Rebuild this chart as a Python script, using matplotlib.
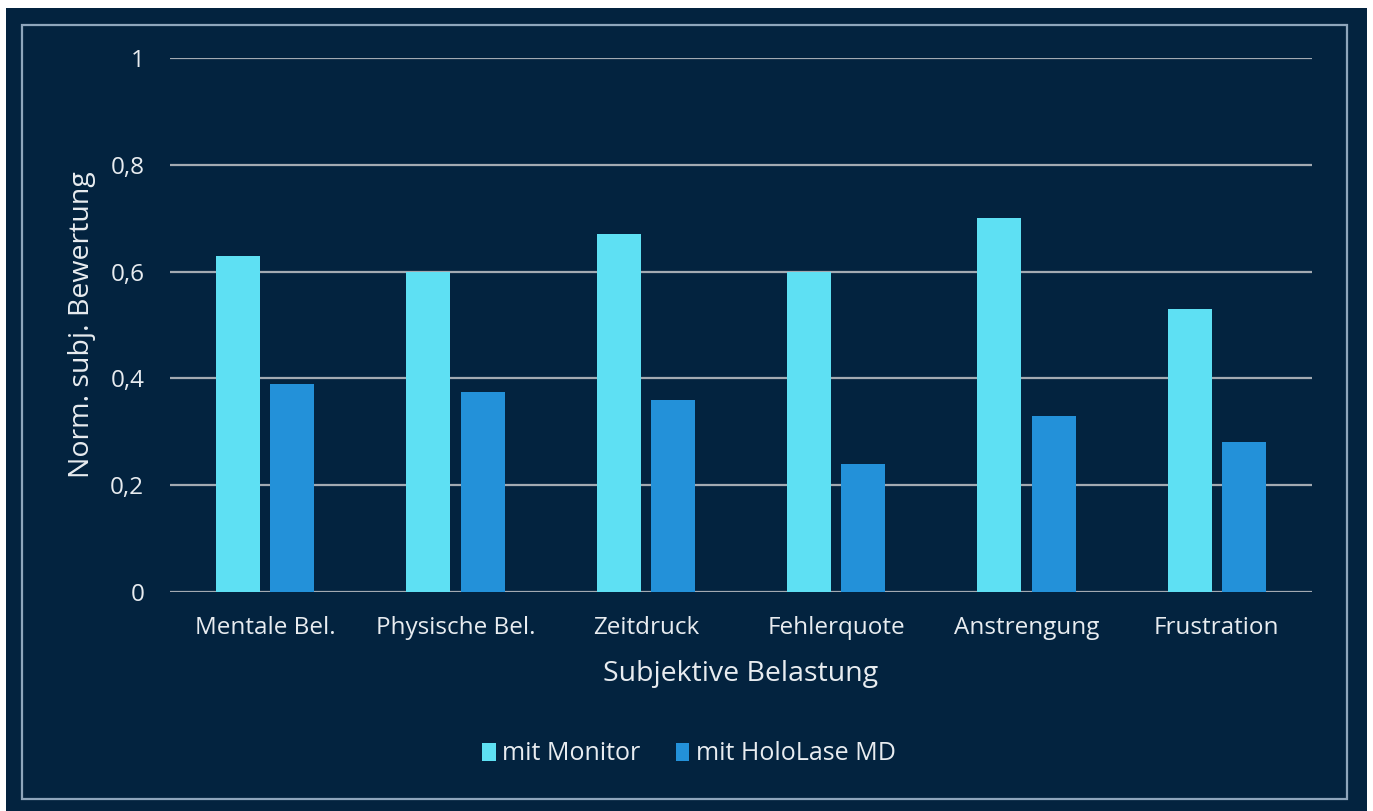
import matplotlib
matplotlib.use("Agg")
import matplotlib.pyplot as plt
from matplotlib.patches import Rectangle
import numpy as np

categories = ["Mentale Bel.", "Physische Bel.", "Zeitdruck", "Fehlerquote", "Anstrengung", "Frustration"]
monitor = [0.63, 0.60, 0.67, 0.60, 0.70, 0.53]
hololase = [0.39, 0.375, 0.36, 0.24, 0.33, 0.28]
series_names = ["mit Monitor", "mit HoloLase MD"]
y_ticks = [0, 0.2, 0.4, 0.6, 0.8, 1.0]
y_tick_labels = ["0", "0,2", "0,4", "0,6", "0,8", "1"]

BG = "#03233F"
TXT = "#E8ECF0"
C_MON = "#5EE0F3"
C_HOLO = "#2391D9"
GRID = "#A3AAB2"

plt.rcParams["font.family"] = ["Open Sans", "DejaVu Sans"]

W, H = 1373, 811
fig = plt.figure(figsize=(W / 100, H / 100), dpi=100, facecolor="white")

# dark card background and inner frame
fig.patches.append(Rectangle((6 / W, 0), (1367 - 6) / W, (811 - 8) / H,
                             transform=fig.transFigure, facecolor=BG,
                             edgecolor="none", zorder=-10))
fig.patches.append(Rectangle((22 / W, 1 - 799 / H), (1347 - 22) / W, (799 - 25) / H,
                             transform=fig.transFigure, facecolor="none",
                             edgecolor="#8FA6BC", linewidth=1.6, zorder=-9))

left, right, top, bottom = 170, 1312, 58, 592
ax = fig.add_axes([left / W, 1 - bottom / H, (right - left) / W, (bottom - top) / H])
ax.set_facecolor("none")

x = np.arange(len(categories))
width = 0.231
offset = 0.142
ax.bar(x - offset, monitor, width, color=C_MON, label=series_names[0], zorder=3)
ax.bar(x + offset, hololase, width, color=C_HOLO, label=series_names[1], zorder=3)

ax.set_xlim(-0.5, len(categories) - 0.5)
ax.set_ylim(0, 1)
ax.set_yticks(y_ticks)
ax.set_yticklabels(y_tick_labels)
ax.set_xticks(x)
ax.set_xticklabels(categories)
ax.yaxis.grid(True, color=GRID, linewidth=1.6, zorder=0)
ax.set_axisbelow(True)
for s in ax.spines.values():
    s.set_visible(False)
ax.tick_params(axis="both", length=0, colors=TXT, labelsize=17.5)
ax.tick_params(axis="y", pad=18.5)
ax.tick_params(axis="x", pad=17)

ax.set_ylabel("Norm. subj. Bewertung", color=TXT, fontsize=20.5, labelpad=10)
ax.set_xlabel("Subjektive Belastung", color=TXT, fontsize=20.5, labelpad=15)

leg = fig.legend(loc="center", bbox_to_anchor=(689 / W, 1 - 754 / H), ncol=2,
                 frameon=False, fontsize=18, labelcolor=TXT,
                 handlelength=0.55, handleheight=0.75, handletextpad=0.25,
                 columnspacing=1.4)

fig.savefig("out.png", dpi=100, facecolor="white")
